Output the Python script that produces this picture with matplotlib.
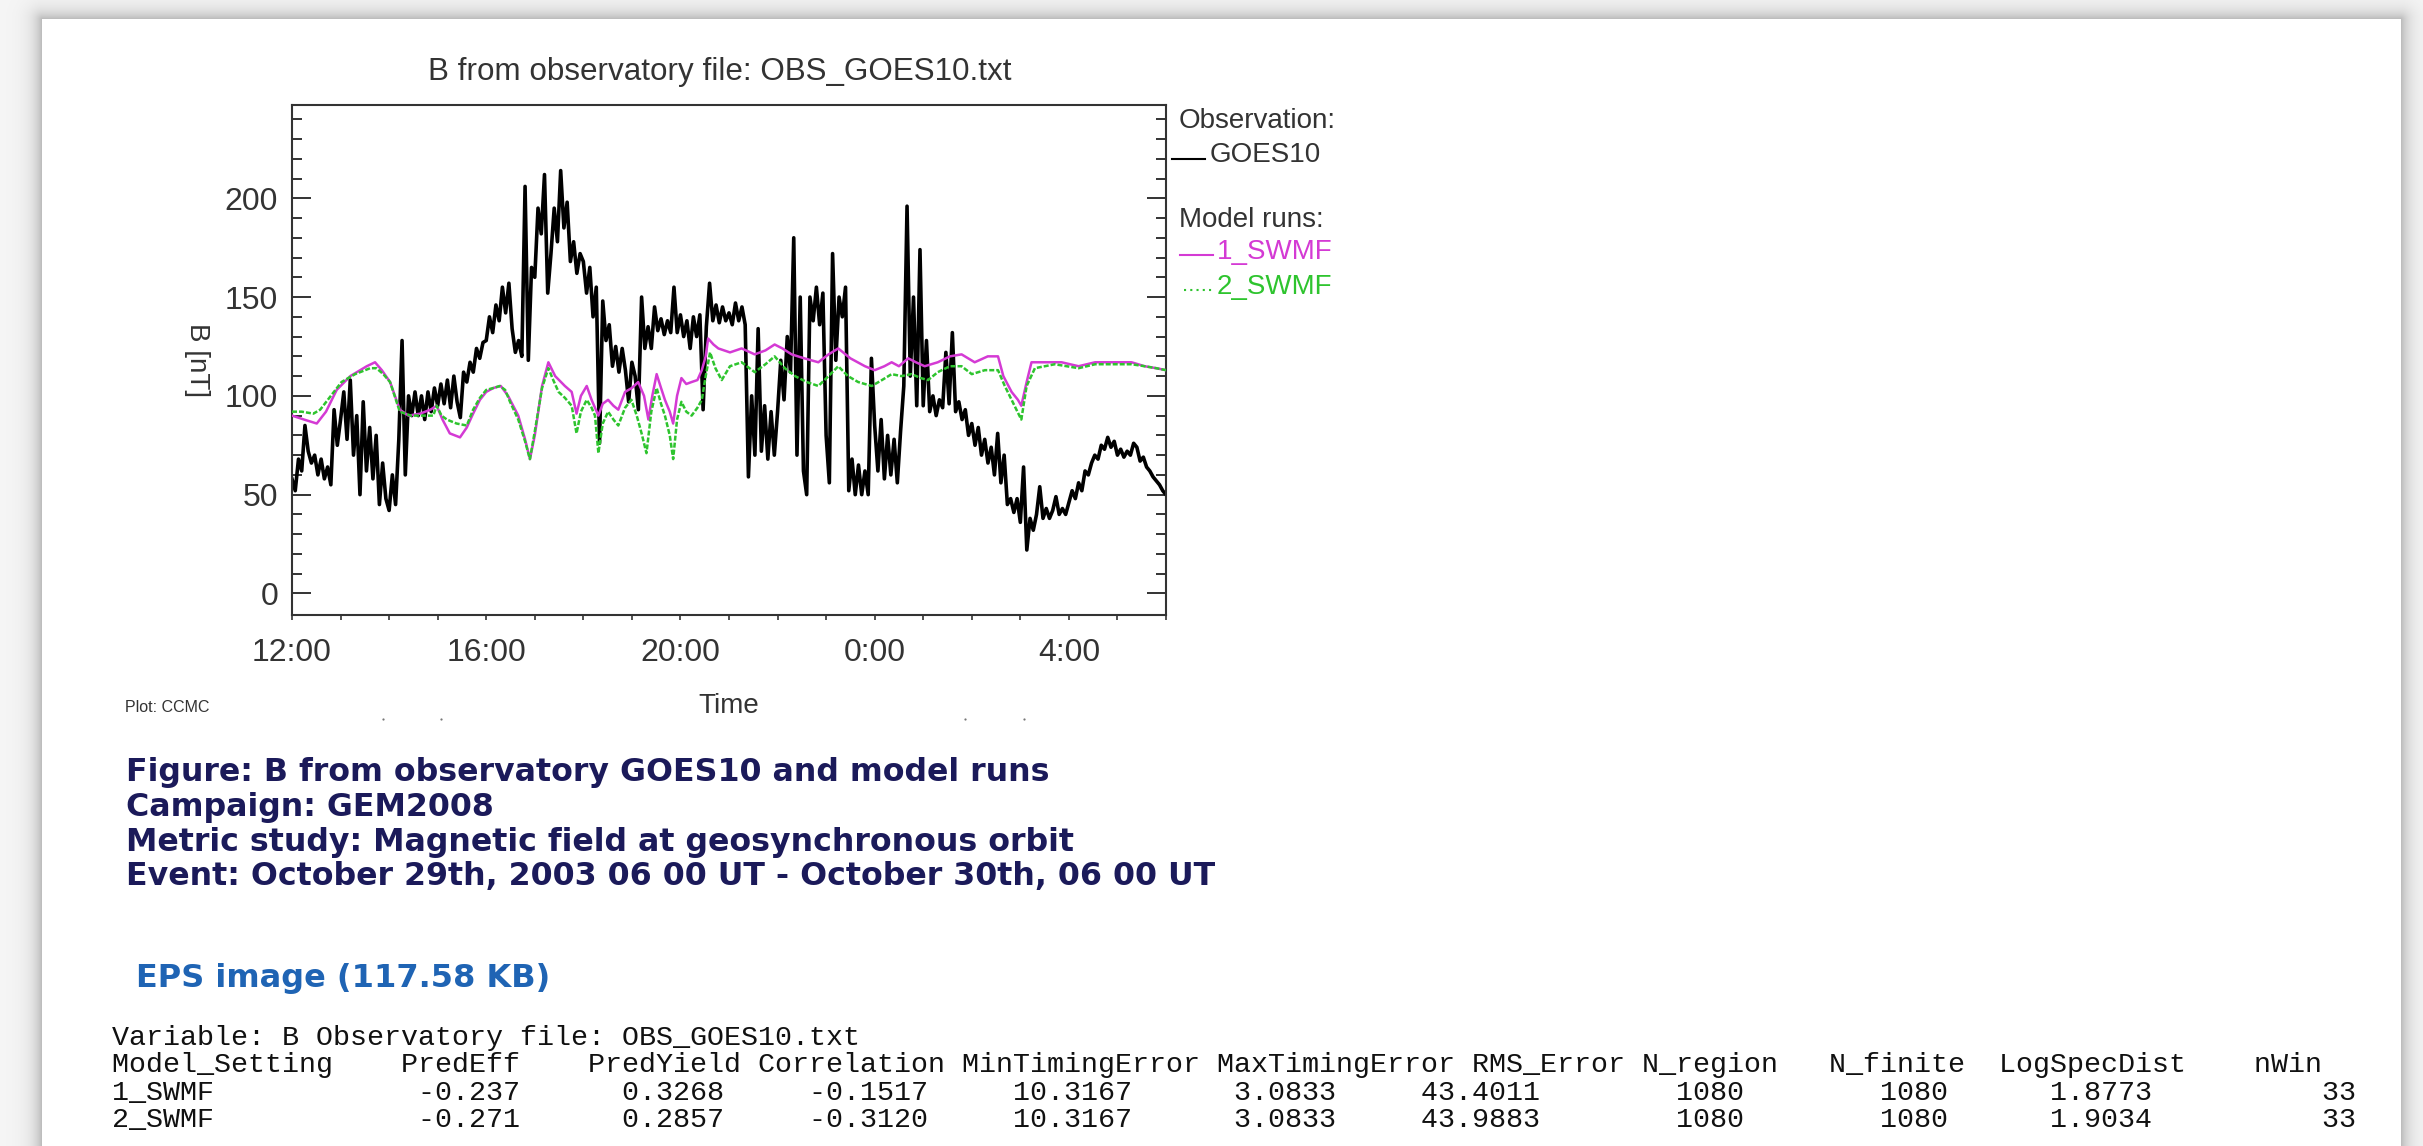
import numpy as np
import matplotlib
matplotlib.use("Agg")
import matplotlib.pyplot as plt
from matplotlib.lines import Line2D

W, H, DPI = 2423, 1146, 100

# ---------------- data ----------------
obs_step_minutes = 4  # GOES10 samples every 4 minutes from 12:00
obs_goes10_b = [
    58, 52, 68, 62, 85, 72, 66, 70, 60, 68, 58, 64, 55, 93, 75,
    88, 102, 78, 108, 70, 90, 50, 97, 62, 84, 58, 80, 45, 66, 48,
    42, 60, 45, 78, 128, 60, 100, 90, 102, 90, 100, 88, 102, 92, 104,
    95, 106, 96, 108, 94, 110, 97, 89, 112, 107, 117, 112, 124, 119, 127,
    128, 140, 132, 146, 138, 155, 142, 157, 134, 122, 128, 120, 206, 118, 165,
    160, 195, 182, 212, 152, 172, 195, 178, 214, 185, 198, 168, 178, 162, 172,
    168, 152, 165, 140, 155, 76, 148, 128, 136, 115, 125, 112, 124, 113, 97,
    117, 110, 93, 150, 124, 135, 124, 145, 133, 139, 131, 138, 132, 155, 132,
    141, 130, 138, 124, 140, 130, 141, 93, 135, 157, 138, 146, 137, 145, 138,
    142, 136, 147, 138, 145, 136, 59, 100, 70, 134, 72, 95, 68, 92, 70,
    92, 118, 98, 130, 112, 180, 70, 150, 62, 50, 150, 138, 155, 136, 152,
    80, 56, 172, 118, 150, 140, 155, 52, 68, 50, 65, 50, 62, 50, 119,
    85, 62, 88, 58, 80, 60, 78, 56, 82, 105, 196, 110, 150, 95, 174,
    95, 128, 92, 100, 90, 98, 94, 122, 96, 132, 92, 97, 88, 93, 80,
    86, 75, 84, 70, 78, 66, 74, 60, 81, 56, 70, 45, 48, 41, 48,
    36, 64, 22, 38, 32, 40, 54, 38, 43, 38, 42, 49, 40, 43, 40,
    46, 52, 48, 56, 52, 62, 60, 66, 70, 68, 75, 73, 79, 74, 77,
    70, 73, 69, 72, 70, 76, 74, 67, 69, 64, 62, 59, 57, 55, 52,
    50,
]

# model run 1_SWMF: hours after 12:00 UT and B [nT]
swmf1_hours = [0.0, 0.25, 0.51, 0.7, 0.92, 1.2, 1.54, 1.71, 1.85, 2.02, 2.22, 2.4, 2.64, 2.85, 2.98,
               3.1, 3.25, 3.46, 3.6, 3.73, 3.87, 4.0, 4.15, 4.3, 4.45, 4.66, 4.8, 4.9, 5.0, 5.15,
               5.28, 5.42, 5.62, 5.76, 5.86, 5.95, 6.07, 6.17, 6.31, 6.4, 6.51, 6.62, 6.72, 6.86,
               7.0, 7.13, 7.25, 7.34, 7.42, 7.51, 7.6, 7.68, 7.78, 7.85, 7.93, 8.02, 8.12, 8.23,
               8.35, 8.44, 8.52, 8.57, 8.68, 8.78, 9.02, 9.26, 9.53, 9.75, 9.94, 10.1, 10.29,
               10.55, 10.84, 11.05, 11.25, 11.5, 11.8, 12.0, 12.2, 12.35, 12.5, 12.69, 12.85,
               13.03, 13.3, 13.55, 13.79, 14.06, 14.33, 14.54, 14.65, 14.82, 14.95, 15.02, 15.13,
               15.23, 15.51, 15.85, 16.2, 16.54, 17.0, 17.29, 17.56, 17.8, 18.0]
swmf1_b = [90, 88, 86, 92, 103, 110, 115, 117, 113, 107, 93, 90, 91, 93, 95,
           88, 81, 79, 84, 91, 98, 102, 104, 105, 100, 90, 78, 68, 80, 105,
           117, 110, 105, 102, 91, 100, 105, 98, 90, 96, 98, 95, 93, 102,
           104, 107, 100, 88, 100, 111, 104, 98, 92, 86, 100, 109, 106, 107,
           108, 113, 120, 129, 126, 124, 122, 124, 121, 123, 126, 124, 121,
           119, 117, 121, 124, 119, 115, 113, 115, 117, 115, 119, 117,
           115, 117, 120, 121, 117, 120, 120, 110, 102, 98, 95, 107,
           117, 117, 117, 115, 117, 117, 117, 115, 114, 113]

# model run 2_SWMF
swmf2_hours = [0.0, 0.2, 0.44, 0.58, 0.8, 1.02, 1.3, 1.61, 1.74, 1.88, 2.02, 2.22, 2.45, 2.7, 2.91,
               2.98, 3.08, 3.19, 3.39, 3.6, 3.73, 3.87, 4.0, 4.15, 4.28, 4.39, 4.49, 4.66, 4.8,
               4.9, 5.0, 5.15, 5.28, 5.38, 5.49, 5.62, 5.76, 5.86, 5.95, 6.07, 6.17, 6.24, 6.31,
               6.4, 6.51, 6.62, 6.72, 6.86, 6.99, 7.1, 7.2, 7.3, 7.4, 7.51, 7.6, 7.68, 7.78, 7.85,
               7.93, 8.02, 8.12, 8.23, 8.35, 8.44, 8.52, 8.61, 8.72, 8.85, 9.02, 9.26, 9.53, 9.75,
               9.94, 10.15, 10.36, 10.6, 10.84, 11.05, 11.25, 11.45, 11.66, 11.94, 12.15, 12.35,
               12.55, 12.76, 12.95, 13.1, 13.3, 13.55, 13.79, 14.0, 14.27, 14.54, 14.68, 14.88,
               15.02, 15.13, 15.3, 15.71, 16.2, 16.54, 17.0, 17.29, 17.56, 17.8, 18.0]
swmf2_b = [92, 92, 91, 93, 100, 107, 111, 114, 114, 111, 107, 92, 90, 90, 90,
           95, 90, 88, 86, 85, 93, 99, 103, 104, 105, 103, 97, 88, 77,
           68, 82, 104, 114, 108, 102, 99, 95, 81, 92, 98, 94, 90, 71,
           86, 92, 88, 85, 94, 98, 90, 81, 71, 92, 104, 96, 90, 80, 68,
           88, 97, 92, 90, 94, 98, 110, 122, 114, 108, 115, 117, 112, 116,
           120, 114, 110, 107, 105, 110, 115, 110, 107, 105, 108, 111,
           110, 111, 109, 108, 112, 115, 115, 111, 113, 113, 105, 95,
           88, 105, 114, 116, 114, 116, 116, 116, 115, 114, 113]

x_tick_hours = [0, 4, 8, 12, 16]
x_tick_labels = ["12:00", "16:00", "20:00", "0:00", "4:00"]
y_tick_values = [0, 50, 100, 150, 200]

caption_lines = [
    "Figure: B from observatory GOES10 and model runs",
    "Campaign: GEM2008",
    "Metric study: Magnetic field at geosynchronous orbit",
    "Event: October 29th, 2003 06 00 UT - October 30th, 06 00 UT",
]
eps_link_text = "EPS image (117.58 KB)"
table_title = "Variable: B Observatory file: OBS_GOES10.txt"
table_header = ("Model_Setting    PredEff    PredYield Correlation MinTimingError "
                "MaxTimingError RMS_Error N_region   N_finite  LogSpecDist    nWin")
model_settings = ["1_SWMF", "2_SWMF"]
pred_eff = [-0.237, -0.271]
pred_yield = [0.3268, 0.2857]
correlation = [-0.1517, -0.3120]
min_timing_error = [10.3167, 10.3167]
max_timing_error = [3.0833, 3.0833]
rms_error = [43.4011, 43.9883]
n_region = [1080, 1080]
n_finite = [1080, 1080]
log_spec_dist = [1.8773, 1.9034]
n_win = [33, 33]

# ---------------- figure ----------------
fig = plt.figure(figsize=(W / DPI, H / DPI), dpi=DPI)
fig.patch.set_facecolor("white")


def fx(px):
    return px / W


def fy(py):
    return 1 - py / H


# page with drop shadow (screenshot background)
bg = fig.add_axes([0, 0, 1, 1], zorder=-10)
yy, xx = np.mgrid[0:H, 0:W]
px0, px1, py0 = 42, 2400, 19
dx = np.maximum(np.maximum(px0 - xx, xx - px1), 0)
dy = np.maximum(py0 - yy, 0)
dist = np.hypot(dx, dy)
gray = 0.965 - 0.25 * np.exp(-dist / 9.0)
gray[(xx >= px0) & (xx <= px1) & (yy >= py0)] = 1.0
bg.imshow(np.dstack([gray] * 3), aspect="auto", interpolation="bilinear",
          extent=[0, W, H, 0])
bg.set_xlim(0, W)
bg.set_ylim(H, 0)
bg.axis("off")

PLOT_FONT = "Liberation Sans"
TXT = "#333333"
MAGENTA = "#d43ad4"
GREEN = "#2ec42e"

ax_l, ax_r, ax_t, ax_b = 292, 1166, 105, 615
ax = fig.add_axes([fx(ax_l), fy(ax_b), fx(ax_r - ax_l), (ax_b - ax_t) / H])

obs_hours = np.arange(len(obs_goes10_b)) * obs_step_minutes / 60.0
ax.plot(obs_hours, obs_goes10_b, color="black", lw=2.6, zorder=2)
ax.plot(swmf1_hours, swmf1_b, color=MAGENTA, lw=1.8, zorder=3)
ax.plot(swmf2_hours, swmf2_b, color=GREEN, lw=1.8, ls=(0, (2, 0.8)), zorder=4)

ax.set_xlim(0, 18)
ax.set_ylim(-10.9, 247.2)
ax.set_xticks(x_tick_hours)
ax.set_xticklabels(x_tick_labels)
ax.set_xticks(np.arange(0, 19, 1), minor=True)
ax.set_yticks(y_tick_values)
ax.set_yticks(np.arange(0, 241, 10), minor=True)

for sp in ax.spines.values():
    sp.set_color(TXT)
    sp.set_linewidth(1.5)

ax.tick_params(axis="y", which="major", direction="in", length=13.4, width=1.4,
               left=True, right=True, color=TXT, labelsize=23, labelcolor=TXT, pad=10)
ax.tick_params(axis="y", which="minor", direction="in", length=7.2, width=1.4,
               left=True, right=True, color=TXT)
ax.tick_params(axis="x", which="both", direction="out", length=3.5, width=1.2,
               bottom=True, top=False, color=TXT)
ax.tick_params(axis="x", which="major", labelsize=23, labelcolor=TXT, pad=13)
for lab in ax.get_xticklabels() + ax.get_yticklabels():
    lab.set_family(PLOT_FONT)

# plot texts
fig.text(fx(720), fy(72), "B from observatory file: OBS_GOES10.txt", ha="center", va="center",
         family=PLOT_FONT, fontsize=22.6, color=TXT)
fig.text(fx(197), fy(360), "B [nT]", rotation=-90, ha="center", va="center",
         family=PLOT_FONT, fontsize=20, color=TXT)
fig.text(fx(729), fy(706), "Time", ha="center", va="center",
         family=PLOT_FONT, fontsize=20, color=TXT)
fig.text(fx(125), fy(708), "Plot: CCMC", ha="left", va="center",
         family=PLOT_FONT, fontsize=11.5, color=TXT)
for dotx in (383, 441, 965, 1024):
    fig.add_artist(Line2D([fx(dotx)], [fy(719)], marker="o", ms=1.6, mec="none",
                          mfc="#777777", transform=fig.transFigure))

# legend block
fig.text(fx(1179), fy(121), "Observation:", ha="left", va="center",
         family=PLOT_FONT, fontsize=20, color=TXT)
fig.add_artist(Line2D([fx(1172), fx(1205)], [fy(159)] * 2, color="black", lw=1.5,
                      transform=fig.transFigure))
fig.text(fx(1210), fy(155), "GOES10", ha="left", va="center",
         family=PLOT_FONT, fontsize=20, color=TXT)
fig.text(fx(1179), fy(220), "Model runs:", ha="left", va="center",
         family=PLOT_FONT, fontsize=20, color=TXT)
fig.add_artist(Line2D([fx(1180), fx(1213)], [fy(255)] * 2, color=MAGENTA, lw=1.5,
                      transform=fig.transFigure))
fig.text(fx(1217), fy(252), "1_SWMF", ha="left", va="center",
         family=PLOT_FONT, fontsize=20, color=MAGENTA)
fig.add_artist(Line2D([fx(1184), fx(1213)], [fy(290)] * 2, color=GREEN, lw=1.5,
                      ls=(0, (1, 2)), transform=fig.transFigure))
fig.text(fx(1217), fy(287), "2_SWMF", ha="left", va="center",
         family=PLOT_FONT, fontsize=20, color=GREEN)

# caption
for i, line in enumerate(caption_lines):
    fig.text(fx(126), fy(773 + 34.5 * i), line, ha="left", va="center",
             family="DejaVu Sans", weight="bold", fontsize=22.8, color="#1b1a5a")
fig.text(fx(136), fy(978), eps_link_text, ha="left", va="center",
         family="DejaVu Sans", weight="bold", fontsize=23, color="#1f64b4")

# statistics table (monospaced)
char_px = 17.0
mono_size = char_px / 0.6 * 72 / DPI
rows = [table_title, table_header]
for i, name in enumerate(model_settings):
    rows.append(f"{name:<12}{pred_eff[i]:12.3f}{pred_yield[i]:12.4f}{correlation[i]:12.4f}"
                f"{min_timing_error[i]:12.4f}{max_timing_error[i]:12.4f}{rms_error[i]:12.4f}"
                f"{n_region[i]:12d}{n_finite[i]:12d}{log_spec_dist[i]:12.4f}{n_win[i]:12d}")
for i, row in enumerate(rows):
    fig.text(fx(112), fy(1038 + 27.5 * i), row, ha="left", va="center",
             family="Liberation Mono", fontsize=mono_size, color="#111111")

fig.savefig("out.png", dpi=DPI)
